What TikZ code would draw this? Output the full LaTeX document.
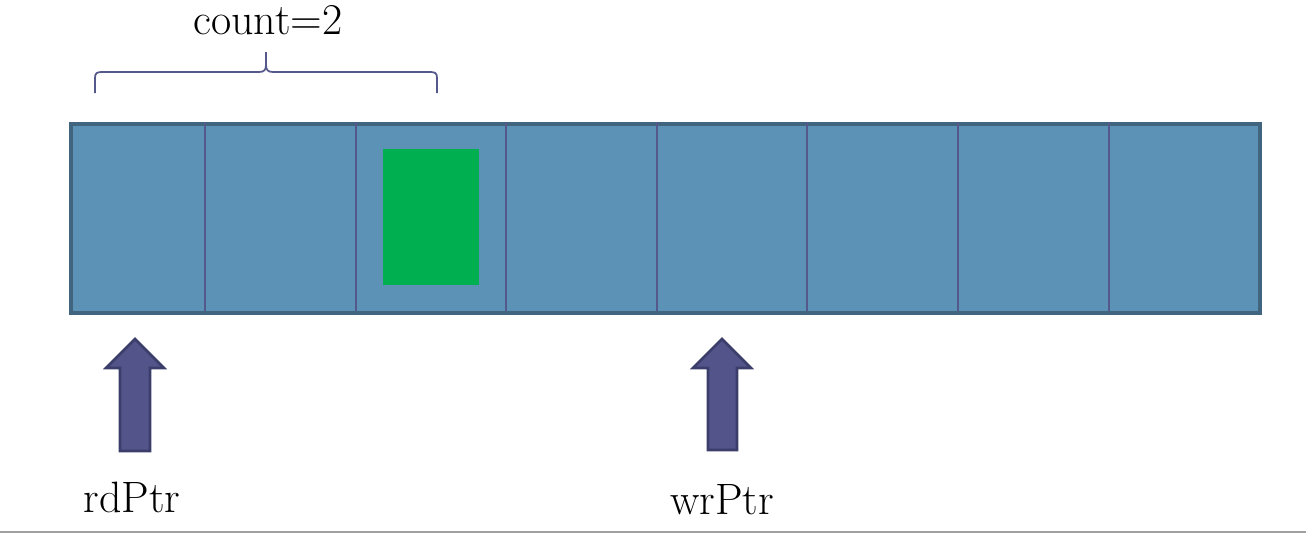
\documentclass[tikz,border=0pt]{standalone}
\usepackage{fontspec}
\definecolor{cellfill}{HTML}{5B92B5}
\definecolor{celledge}{HTML}{41657F}
\definecolor{divider}{HTML}{55588A}
\definecolor{greenbox}{HTML}{00B050}
\definecolor{arrowfill}{HTML}{53548A}
\definecolor{arrowedge}{HTML}{3B3D6B}
\definecolor{rulegray}{HTML}{A0A0A0}
\tikzset{
  lbl/.style={inner sep=0pt, font=\fontsize{25}{30}\selectfont},
  ptrarrow/.style={fill=arrowfill, draw=arrowedge, line width=1.5pt, line join=miter},
  divline/.style={draw=divider, line width=1pt},
}
\begin{document}
\begin{tikzpicture}[x=0.02cm, y=-0.02cm]
\useasboundingbox (0,0) rectangle (1306,534);
% buffer
\node[draw=celledge, fill=cellfill, line width=2pt, minimum width=1189*0.02cm, minimum height=189*0.02cm, inner sep=0pt, anchor=north west] (buf) at (69,122) {};
\foreach \x in {205,356,506,657,807,958,1109}
  \draw[divline] (\x,122) -- (\x,311);
\node[fill=greenbox, minimum width=96*0.02cm, minimum height=136*0.02cm, inner sep=0pt, anchor=north west] (item) at (383,149) {};
% brace
\draw[divider, line width=1pt]
  (95,93) -- (95,78) .. controls (95,73) and (97,72) .. (102,72)
  -- (259,72) .. controls (264,72) and (266,70) .. (266,65) -- (266,52)
  (266,65) .. controls (266,70) and (268,72) .. (273,72)
  -- (430,72) .. controls (435,72) and (437,73) .. (437,78) -- (437,93);
\node[lbl] (count) at (268,20) {count=2};
% pointers
\draw[ptrarrow] (120,451) -- (120,368) -- (106,368) -- (135,339) -- (164,368) -- (150,368) -- (150,451) -- cycle;
\draw[ptrarrow] (708,450) -- (708,368) -- (693,368) -- (722,339) -- (751,368) -- (737,368) -- (737,450) -- cycle;
\node[lbl] (rd) at (132,497) {rdPtr};
\node[lbl] (wr) at (722,500) {wrPtr};
% bottom rule
\draw[rulegray, line width=1pt] (0,532) -- (1306,532);
\end{tikzpicture}
\end{document}
